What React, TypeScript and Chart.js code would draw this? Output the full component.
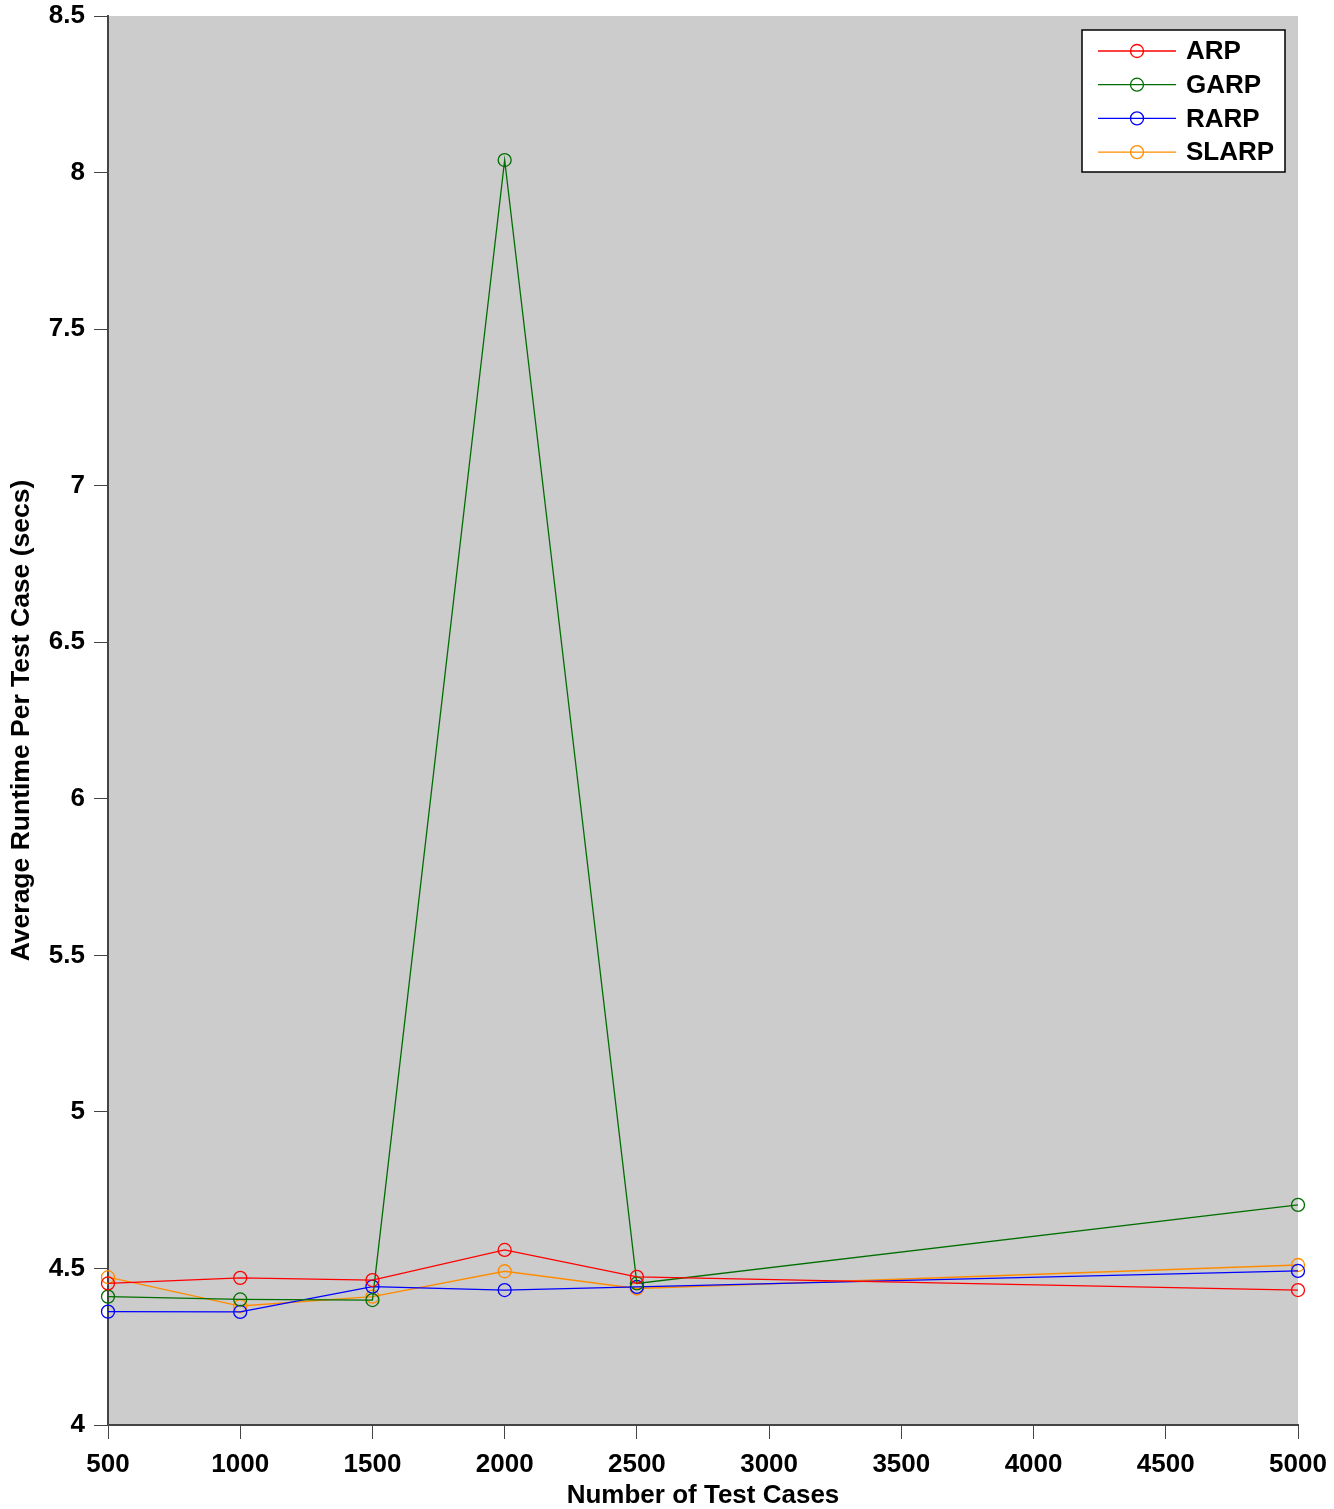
import React, { useEffect, useRef } from "react";
import { Chart, registerables } from "chart.js";

Chart.register(...registerables);

const xValues = [500, 1000, 1500, 2000, 2500, 5000];
const seriesNames = ["ARP", "GARP", "RARP", "SLARP"];
const arp = [4.452, 4.47, 4.463, 4.559, 4.473, 4.431];
const garp = [4.41, 4.401, 4.399, 8.04, 4.452, 4.703];
const rarp = [4.362, 4.361, 4.442, 4.431, 4.441, 4.492];
const slarp = [4.472, 4.38, 4.41, 4.491, 4.436, 4.511];
const seriesColors = ["#ff0000", "#006e00", "#0000ff", "#ff8c00"];
const xTitle = "Number of Test Cases";
const yTitle = "Average Runtime Per Test Case (secs)";

const FONT = "'Liberation Sans', Arial, sans-serif";

const bgPlugin = {
  id: "plotBg",
  beforeDraw(chart: any) {
    const { ctx, chartArea } = chart;
    ctx.save();
    ctx.fillStyle = "#cccccc";
    ctx.fillRect(chartArea.left, chartArea.top, chartArea.right - chartArea.left, chartArea.bottom - chartArea.top);
    ctx.restore();
  },
};

const legendPlugin = {
  id: "boxLegend",
  afterDraw(chart: any) {
    const { ctx } = chart;
    const x0 = 1082, y0 = 30, w = 203, h = 142;
    ctx.save();
    ctx.fillStyle = "#ffffff";
    ctx.fillRect(x0, y0, w, h);
    ctx.strokeStyle = "#000000";
    ctx.lineWidth = 1.5;
    ctx.strokeRect(x0, y0, w, h);
    chart.data.datasets.forEach((ds: any, i: number) => {
      const y = 51 + i * 33.7;
      ctx.strokeStyle = ds.borderColor;
      ctx.lineWidth = 1.3;
      ctx.beginPath();
      ctx.moveTo(1098, y);
      ctx.lineTo(1176, y);
      ctx.stroke();
      ctx.beginPath();
      ctx.arc(1137, y, 6.5, 0, Math.PI * 2);
      ctx.stroke();
      ctx.fillStyle = "#000000";
      ctx.font = `bold 26px ${FONT}`;
      ctx.textBaseline = "middle";
      ctx.textAlign = "left";
      ctx.fillText(ds.label, 1186, y + 1);
    });
    ctx.restore();
  },
};

export default function App() {
  const ref = useRef<HTMLCanvasElement | null>(null);
  useEffect(() => {
    if (!ref.current) return;
    const all = [arp, garp, rarp, slarp];
    const chart = new Chart(ref.current, {
      type: "line",
      data: {
        datasets: all.map((vals, i) => ({
          label: seriesNames[i],
          data: xValues.map((x, j) => ({ x, y: vals[j] })),
          borderColor: seriesColors[i],
          backgroundColor: "rgba(0,0,0,0)",
          borderWidth: 1.3,
          pointRadius: 6.5,
          pointBorderWidth: 1.3,
          pointBorderColor: seriesColors[i],
          pointBackgroundColor: "rgba(0,0,0,0)",
          tension: 0,
          clip: false as any,
        })),
      },
      options: {
        responsive: false,
        animation: false,
        events: [],
        layout: { padding: { top: 16, right: 36, left: 0, bottom: 0 } },
        plugins: { legend: { display: false }, tooltip: { enabled: false }, title: { display: false } },
        scales: {
          x: {
            type: "linear",
            min: 500,
            max: 5000,
            afterFit: (s: any) => { s.height = 84; s.paddingLeft = 0; s.paddingRight = 0; },
            ticks: { stepSize: 500, color: "#000", font: { family: FONT, size: 26, weight: "bold" }, padding: 10, maxRotation: 0, autoSkip: false, callback: (v: any) => String(v) },
            grid: { drawOnChartArea: false, drawTicks: true, tickLength: 14, tickColor: "#444", tickWidth: 1 },
            border: { display: true, color: "#444", width: 2 },
            title: { display: true, text: xTitle, color: "#000", font: { family: FONT, size: 26, weight: "bold", lineHeight: 1.0 }, padding: { top: 0, bottom: 0 } },
          },
          y: {
            type: "linear",
            min: 4,
            max: 8.5,
            afterFit: (s: any) => { s.width = 108; s.paddingTop = 0; s.paddingBottom = 0; },
            ticks: { stepSize: 0.5, color: "#000", font: { family: FONT, size: 26, weight: "bold" }, padding: 9, autoSkip: false, callback: (v: any) => String(v) },
            grid: { drawOnChartArea: false, drawTicks: true, tickLength: 14, tickColor: "#444", tickWidth: 1 },
            border: { display: true, color: "#444", width: 2 },
            title: { display: true, text: yTitle, color: "#000", font: { family: FONT, size: 26.5, weight: "bold" }, padding: { top: 6, bottom: 0 } },
          },
        },
      },
      plugins: [bgPlugin, legendPlugin],
    });
    return () => chart.destroy();
  }, []);
  return (
    <div style={{ position: "fixed", left: 0, top: 0, width: 1334, height: 1509, background: "#fff" }}>
      <canvas ref={ref} width={1334} height={1509} style={{ display: "block" }} />
    </div>
  );
}
